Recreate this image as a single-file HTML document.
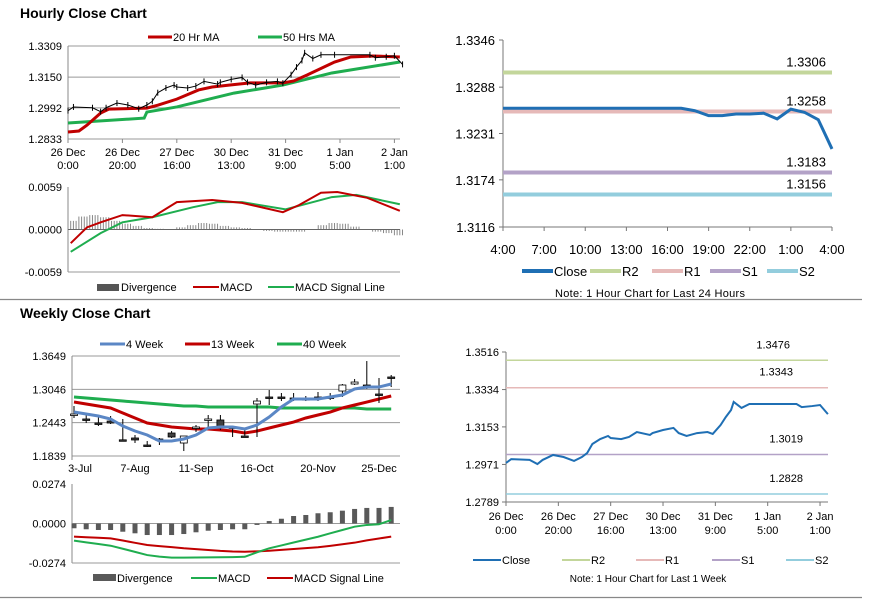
<!DOCTYPE html>
<html><head><meta charset="utf-8">
<style>
html,body{margin:0;padding:0;background:#fff;}
svg{display:block;font-family:"Liberation Sans",Arial,sans-serif;}
</style></head>
<body>
<svg id="root" width="873" height="601" viewBox="0 0 873 601" xmlns="http://www.w3.org/2000/svg">
<text x="20" y="18" font-size="14" font-weight="bold" fill="#000">Hourly Close Chart</text>
<text x="20" y="318" font-size="14" font-weight="bold" fill="#000">Weekly Close Chart</text>
<line x1="0" y1="299.5" x2="862" y2="299.5" stroke="#888" stroke-width="1.2"/>
<line x1="0" y1="597.5" x2="862" y2="597.5" stroke="#888" stroke-width="1.2"/>
<text x="650" y="297" font-size="11" text-anchor="middle" fill="#000" textLength="190">Note: 1 Hour Chart for Last 24 Hours</text>
<text x="648" y="582" font-size="10" text-anchor="middle" fill="#000">Note: 1 Hour Chart for Last 1 Week</text>
</svg>
<script>
// ===== Hourly chart data (hours since 26 Dec 0:00) =====
const hrHours = [0,2,9,12,14,18,22,26,29,31,33,36,39,40,44,47,50,55,56,60,64,66,69,73,77,79,82,84,86,87,90,93,98,111,113,117,120,123];
const hrClose = [1.2978,1.2997,1.2993,1.2973,1.2993,1.3017,1.3007,1.2988,1.3007,1.3026,1.3070,1.3094,1.3109,1.3099,1.3094,1.3104,1.3128,1.3114,1.3123,1.3138,1.3148,1.3123,1.3109,1.3123,1.3128,1.3119,1.3162,1.3201,1.3235,1.3274,1.3245,1.3264,1.3264,1.3264,1.3249,1.3254,1.3259,1.3215];
const ma20Hours = [0,4,7,12,15,29,33,40,48,53,60,67,79,83,88,98,104,112,122];
const ma20Vals = [1.2869,1.2874,1.2904,1.2966,1.2986,1.2991,1.3006,1.3037,1.3084,1.3099,1.3110,1.3120,1.3120,1.3130,1.3161,1.3227,1.3253,1.3258,1.3253];
const ma50Hours = [0,28,29,40,61,79,97,122];
const ma50Vals = [1.2915,1.2940,1.2971,1.2997,1.3068,1.3109,1.3171,1.3227];
const hrTicks = [1.3309,1.3150,1.2992,1.2833];
const hrTickLabels = ["1.3309","1.3150","1.2992","1.2833"];
const hrXHours = [0,20,40,60,80,100,120];
const hrXLab1 = ["26 Dec","26 Dec","27 Dec","30 Dec","31 Dec","1 Jan","2 Jan"];
const hrXLab2 = ["0:00","20:00","16:00","13:00","9:00","5:00","1:00"];
const macdHours = [1,7,12,20,31,40,53,64,79,85,93,99,110,122];
const macdVals = [-0.0019,0.0003,0.0010,0.0020,0.0017,0.0038,0.0041,0.0037,0.0024,0.0034,0.0051,0.0052,0.0044,0.0026];
const sigHours = [1,12,20,31,46,55,64,80,97,106,122];
const sigVals = [-0.0031,-0.0005,0.0010,0.0017,0.0031,0.0038,0.0038,0.0028,0.0045,0.0048,0.0035];
const divVals = [0.0012,0.0018,0.0020,0.0017,0.0012,0.0008,0.0005,0.0002,0.0001,0.0000,0.0003,0.0006,0.0009,0.0008,0.0005,0.0003,0.0002,0.0000,-0.0002,-0.0003,-0.0003,-0.0003,0.0000,0.0006,0.0009,0.0008,0.0004,0.0000,-0.0003,-0.0005,-0.0008];
const divStepHours = 4;
const hrMacdTicks = [0.0059,0,-0.0059];
const hrMacdLabels = ["0.0059","0.0000","-0.0059"];

// ===== Weekly chart data =====
const wkLabels = ["3-Jul","7-Aug","11-Sep","16-Oct","20-Nov","25-Dec"];
const wkLabelIdx = [0,5,10,15,20,25];
const wkOpen = [1.2581,1.2509,1.2436,1.2472,1.2132,1.2165,1.2038,1.2147,1.2255,1.2074,1.2346,1.2491,1.2491,1.2364,1.2201,1.2780,1.2907,1.2907,1.2889,1.2871,1.2907,1.2907,1.3015,1.3142,1.3124,1.2961,1.3269];
const wkClose = [1.2599,1.2491,1.2418,1.2436,1.2126,1.2129,1.2032,1.2141,1.2183,1.2201,1.2364,1.2509,1.2364,1.2358,1.2195,1.2834,1.2901,1.2901,1.2883,1.2877,1.2901,1.2901,1.3124,1.3178,1.3118,1.2955,1.3263];
const wkHigh = [1.2744,1.2599,1.2563,1.2563,1.2509,1.2219,1.2110,1.2165,1.2291,1.2201,1.2400,1.2581,1.2581,1.2382,1.2328,1.2889,1.3034,1.2979,1.2979,1.2925,1.2997,1.2979,1.3142,1.3233,1.3558,1.3251,1.3305];
const wkLow = [1.2527,1.2436,1.2382,1.2418,1.2110,1.2074,1.2002,1.2038,1.2165,1.1929,1.2273,1.2364,1.2310,1.2183,1.2183,1.2183,1.2762,1.2834,1.2834,1.2834,1.2834,1.2853,1.2907,1.3124,1.3052,1.2798,1.3088];
const wk4 = [1.2635,1.2599,1.2563,1.2509,1.2382,1.2291,1.2219,1.2110,1.2110,1.2147,1.2219,1.2346,1.2364,1.2364,1.2328,1.2400,1.2545,1.2726,1.2871,1.2871,1.2871,1.2907,1.2943,1.3052,1.3088,1.3088,1.3142];
const wk13 = [1.2816,1.2780,1.2744,1.2708,1.2617,1.2527,1.2436,1.2400,1.2364,1.2346,1.2328,1.2328,1.2310,1.2291,1.2255,1.2291,1.2346,1.2400,1.2454,1.2527,1.2581,1.2635,1.2708,1.2762,1.2816,1.2871,1.2925];
const wk40 = [1.2907,1.2889,1.2871,1.2853,1.2834,1.2816,1.2798,1.2780,1.2762,1.2744,1.2744,1.2726,1.2726,1.2726,1.2726,1.2726,1.2726,1.2708,1.2708,1.2708,1.2708,1.2708,1.2708,1.2708,1.2690,1.2690,1.2690];
const wkTicks = [1.3649,1.3046,1.2443,1.1839];
const wkTickLabels = ["1.3649","1.3046","1.2443","1.1839"];
const wkDiv = [-0.0033,-0.0040,-0.0045,-0.0045,-0.0057,-0.0068,-0.0080,-0.0080,-0.0080,-0.0073,-0.0061,-0.0050,-0.0045,-0.0040,-0.0040,-0.0010,0.0017,0.0033,0.0052,0.0059,0.0071,0.0078,0.0089,0.0101,0.0108,0.0108,0.0115];
const wkMacd = [-0.0119,-0.0131,-0.0142,-0.0154,-0.0175,-0.0197,-0.0219,-0.0230,-0.0237,-0.0237,-0.0236,-0.0235,-0.0234,-0.0233,-0.0231,-0.0200,-0.0172,-0.0152,-0.0132,-0.0112,-0.0092,-0.0068,-0.0045,-0.0022,-0.0010,-0.0005,0.0024];
const wkSignal = [-0.0091,-0.0095,-0.0099,-0.0103,-0.0118,-0.0134,-0.0149,-0.0157,-0.0164,-0.0172,-0.0178,-0.0184,-0.0190,-0.0194,-0.0196,-0.0193,-0.0189,-0.0183,-0.0177,-0.0171,-0.0165,-0.0155,-0.0144,-0.0133,-0.0117,-0.0104,-0.0091];
const wkMacdTicks = [0.0274,0,-0.0274];
const wkMacdLabels = ["0.0274","0.0000","-0.0274"];

// ===== 24h pivot chart =====
const dayClose = [1.3262,1.3262,1.3262,1.3262,1.3262,1.3262,1.3262,1.3262,1.3262,1.3262,1.3262,1.3262,1.3262,1.3262,1.3259,1.3253,1.3253,1.3255,1.3255,1.3256,1.3249,1.3261,1.3257,1.3248,1.3212];
const dayLevels = [1.3306,1.3258,1.3183,1.3156];
const dayLevelNames = ["R2","R1","S1","S2"];
const dayTicks = [1.3346,1.3288,1.3231,1.3174,1.3116];
const dayTickLabels = ["1.3346","1.3288","1.3231","1.3174","1.3116"];
const dayXLabels = ["4:00","7:00","10:00","13:00","16:00","19:00","22:00","1:00","4:00"];

// ===== 1 week pivot chart =====
const wkpLevels = [1.3476,1.3343,1.3019,1.2828];
const wkpTicks = [1.3516,1.3334,1.3153,1.2971,1.2789];
const wkpTickLabels = ["1.3516","1.3334","1.3153","1.2971","1.2789"];

const NS = "http://www.w3.org/2000/svg";
const root = document.getElementById('root');
function mk(tag, attrs, parent){ const e=document.createElementNS(NS,tag); for(const k in attrs) e.setAttribute(k,attrs[k]); (parent||root).appendChild(e); return e; }
function txt(x,y,s,size,anchor,parent){ const t=mk('text',{x:x,y:y,'font-size':size,'text-anchor':anchor||'start',fill:'#000'},parent); t.textContent=s; return t; }
function pts(xs,ys,fx,fy){ return xs.map((v,i)=>fx(v)+','+fy(ys[i])).join(' '); }

// ---------- Panel 1: hourly price ----------
const h1x = h => 68 + h*2.72;
const h1y = v => 46 + (1.3309 - v)/0.0476*93;
hrTicks.forEach((v,i)=>{
  const g = mk('line',{x1:68,x2:400,y1:h1y(v),y2:h1y(v),stroke:'#999','stroke-width':1});
  
  
  const t = txt(62,h1y(v)+4,hrTickLabels[i],11,'end');
  
  
});
let a = mk('line',{x1:68,x2:68,y1:46,y2:139,stroke:'#888'});


hrXHours.forEach((h,i)=>{
  const tk = mk('line',{x1:h1x(h),x2:h1x(h),y1:139,y2:143,stroke:'#888'});
  
  
  const t1 = txt(h1x(h),156,hrXLab1[i],11,'middle');
  
  
  const t2 = txt(h1x(h),169,hrXLab2[i],11,'middle');
  
  
});
let l = mk('polyline',{points:pts(ma50Hours,ma50Vals,h1x,h1y),fill:'none',stroke:'#1fad4f','stroke-width':3});


l = mk('polyline',{points:pts(ma20Hours,ma20Vals,h1x,h1y),fill:'none',stroke:'#c00000','stroke-width':3});


l = mk('polyline',{points:pts(hrHours,hrClose,h1x,h1y),fill:'none',stroke:'#000','stroke-width':1});


hrHours.forEach((h,i)=>{
  const c = mk('line',{x1:h1x(h),x2:h1x(h),y1:h1y(hrClose[i])-3,y2:h1y(hrClose[i])+3,stroke:'#000','stroke-width':1});
  
  
});
l = mk('line',{x1:148,x2:172,y1:37,y2:37,stroke:'#c00000','stroke-width':3});


l = txt(173,41,'20 Hr MA',11);


l = mk('line',{x1:258,x2:282,y1:37,y2:37,stroke:'#1fad4f','stroke-width':3});


l = txt(283,41,'50 Hrs MA',11);



// ---------- Panel 1b: hourly MACD ----------
const m1y = v => 229.5 - v/0.0059*42.5;
hrMacdTicks.forEach((v,i)=>{
  const t = txt(62,m1y(v)+4,hrMacdLabels[i],11,'end');
  
  
});
a = mk('line',{x1:68,x2:68,y1:187,y2:272,stroke:'#888'});


a = mk('line',{x1:68,x2:400,y1:272,y2:272,stroke:'#999'});


divVals.forEach((v,i)=>{
  const x = h1x(i*divStepHours);
  for(let k=0;k<4;k++){
    const b = mk('line',{x1:x+k*2.7,x2:x+k*2.7,y1:m1y(0),y2:m1y(v),stroke:'#888','stroke-width':1});
    
    
  }
});
a = mk('line',{x1:68,x2:400,y1:229.5,y2:229.5,stroke:'#666'});


l = mk('polyline',{points:pts(sigHours,sigVals,h1x,m1y),fill:'none',stroke:'#1fad4f','stroke-width':2});


l = mk('polyline',{points:pts(macdHours,macdVals,h1x,m1y),fill:'none',stroke:'#c00000','stroke-width':2});


l = mk('rect',{x:97,y:284,width:22,height:7,fill:'#555'});


l = txt(121,291,'Divergence',11);


l = mk('line',{x1:193,x2:219,y1:287,y2:287,stroke:'#c00000','stroke-width':2});


l = txt(220,291,'MACD',11);


l = mk('line',{x1:268,x2:294,y1:287,y2:287,stroke:'#1fad4f','stroke-width':2});


l = txt(295,291,'MACD Signal Line',11);



// ---------- Panel 2: weekly price ----------
const wx = i => 74 + i*12.2;
const wy = v => 356 + (1.3649 - v)/0.181*100;
wkTicks.forEach((v,i)=>{
  const g = mk('line',{x1:72,x2:400,y1:wy(v),y2:wy(v),stroke:'#999'});
  
  
  const t = txt(66,wy(v)+4,wkTickLabels[i],11,'end');
  
  
});
a = mk('line',{x1:72,x2:72,y1:356,y2:460,stroke:'#888'});


wkLabelIdx.forEach((idx,i)=>{
  const t = txt(wx(idx)+(i==0?6:0),472,wkLabels[i],11,'middle');
  
  
});
l = mk('polyline',{points:wk40.map((v,i)=>wx(i)+','+wy(v)).join(' '),fill:'none',stroke:'#1fad4f','stroke-width':3});


l = mk('polyline',{points:wk13.map((v,i)=>wx(i)+','+wy(v)).join(' '),fill:'none',stroke:'#c00000','stroke-width':3});


wkOpen.forEach((o,i)=>{
  const c = wkClose[i], x = wx(i);
  const w = mk('line',{x1:x,x2:x,y1:wy(wkHigh[i]),y2:wy(wkLow[i]),stroke:'#000','stroke-width':1});
  
  
  const top = Math.min(wy(o),wy(c)), h = Math.max(1.5,Math.abs(wy(o)-wy(c)));
  const r = mk('rect',{x:x-3.5,y:top,width:7,height:h,fill:c>=o?'#fff':'#404040',stroke:'#000','stroke-width':0.8});
  
  
});
l = mk('polyline',{points:wk4.map((v,i)=>wx(i)+','+wy(v)).join(' '),fill:'none',stroke:'#5b87c5','stroke-width':3});


[['#5b87c5',100,'4 Week','legend-4week'],['#c00000',185,'13 Week','legend-13week'],['#1fad4f',277,'40 Week','legend-40week']].forEach(d=>{
  const s = mk('line',{x1:d[1],x2:d[1]+25,y1:344,y2:344,stroke:d[0],'stroke-width':3});
  
  
  const t = txt(d[1]+26,348,d[2],11);
  
  
});

// ---------- Panel 2b: weekly MACD ----------
const wmy = v => 523.5 - v/0.0274*39.5;
wkMacdTicks.forEach((v,i)=>{
  const t = txt(66,wmy(v)+4,wkMacdLabels[i],11,'end');
  
  
});
a = mk('line',{x1:72,x2:72,y1:484,y2:563,stroke:'#888'});


a = mk('line',{x1:72,x2:400,y1:563,y2:563,stroke:'#999'});


a = mk('line',{x1:72,x2:400,y1:523.5,y2:523.5,stroke:'#999'});


wkDiv.forEach((v,i)=>{
  const y0 = wmy(0), y1 = wmy(v);
  const b = mk('rect',{x:wx(i)-2.5,y:Math.min(y0,y1),width:5,height:Math.abs(y1-y0),fill:'#595959'});
  
  
});
l = mk('polyline',{points:wkSignal.map((v,i)=>wx(i)+','+wmy(v)).join(' '),fill:'none',stroke:'#c00000','stroke-width':2});


l = mk('polyline',{points:wkMacd.map((v,i)=>wx(i)+','+wmy(v)).join(' '),fill:'none',stroke:'#1fad4f','stroke-width':2});


l = mk('rect',{x:93,y:574,width:23,height:7,fill:'#595959'});


l = txt(117,582,'Divergence',11);


l = mk('line',{x1:191,x2:217,y1:578,y2:578,stroke:'#1fad4f','stroke-width':2});


l = txt(218,582,'MACD',11);


l = mk('line',{x1:267,x2:293,y1:578,y2:578,stroke:'#c00000','stroke-width':2});


l = txt(294,582,'MACD Signal Line',11);



// ---------- Panel 3: 24h pivots ----------
const levelColors = ['#c3d69b','#e6b9b8','#b3a2c7','#93cddd'];
const dx = h => 503 + h*13.708;
const dy = v => 40 + (1.3346 - v)/0.023*187;
a = mk('line',{x1:503,x2:503,y1:40,y2:227,stroke:'#777'});


a = mk('line',{x1:503,x2:832,y1:227,y2:227,stroke:'#777'});


dayTicks.forEach((v,i)=>{
  const tk = mk('line',{x1:499,x2:503,y1:dy(v),y2:dy(v),stroke:'#777'});
  
  
  const t = txt(495,dy(v)+5,dayTickLabels[i],13,'end');
  
  
});
dayXLabels.forEach((s,i)=>{
  const x = dx(i*3);
  const tk = mk('line',{x1:x,x2:x,y1:227,y2:231,stroke:'#777'});
  
  
  const t = txt(x,254,s,13,'middle');
  
  
});
dayLevels.forEach((v,i)=>{
  const g = mk('line',{x1:503,x2:832,y1:dy(v),y2:dy(v),stroke:levelColors[i],'stroke-width':4});
  
  
  const t = txt(826,dy(v)-6,v.toFixed(4),13,'end');
  
  
});
l = mk('polyline',{points:dayClose.map((v,i)=>dx(i)+','+dy(v)).join(' '),fill:'none',stroke:'#1f6fb4','stroke-width':3});


[['#1f6fb4',522,'Close'],['#c3d69b',590,'R2'],['#e6b9b8',652,'R1'],['#b3a2c7',710,'S1'],['#93cddd',767,'S2']].forEach(d=>{
  const s = mk('line',{x1:d[1],x2:d[1]+31,y1:271,y2:271,stroke:d[0],'stroke-width':4});
  
  
  const t = txt(d[1]+32,276,d[2],13);
  
  
});

// ---------- Panel 4: 1 week pivots ----------
const px = h => 506 + h*2.617;
const py = v => 352 + (1.3516 - v)/0.0727*150;
a = mk('line',{x1:506,x2:506,y1:352,y2:502,stroke:'#777'});


a = mk('line',{x1:506,x2:828,y1:502,y2:502,stroke:'#777'});


wkpTicks.forEach((v,i)=>{
  const tk = mk('line',{x1:502,x2:506,y1:py(v),y2:py(v),stroke:'#777'});
  
  
  const t = txt(499,py(v)+4,wkpTickLabels[i],11,'end');
  
  
});
hrXHours.forEach((h,i)=>{
  const tk = mk('line',{x1:px(h),x2:px(h),y1:502,y2:506,stroke:'#777'});
  
  
  const t1 = txt(px(h),520,hrXLab1[i],11,'middle');
  
  
  const t2 = txt(px(h),534,hrXLab2[i],11,'middle');
  
  
});
const wkpLabelX = [790,793,803,803];
wkpLevels.forEach((v,i)=>{
  const g = mk('line',{x1:506,x2:828,y1:py(v),y2:py(v),stroke:levelColors[i],'stroke-width':1.5});
  
  
  const t = txt(wkpLabelX[i],py(v)-12,v.toFixed(4),11,'end');
  
  
});
l = mk('polyline',{points:pts(hrHours,hrClose,px,py),fill:'none',stroke:'#1f6fb4','stroke-width':2});


[['#1f6fb4',473,'Close'],['#c3d69b',562,'R2'],['#e6b9b8',636,'R1'],['#b3a2c7',712,'S1'],['#93cddd',786,'S2']].forEach(d=>{
  const s = mk('line',{x1:d[1],x2:d[1]+28,y1:560,y2:560,stroke:d[0],'stroke-width':2});
  
  
  const t = txt(d[1]+29,564,d[2],11);
  
  
});
</script>
</body></html>
